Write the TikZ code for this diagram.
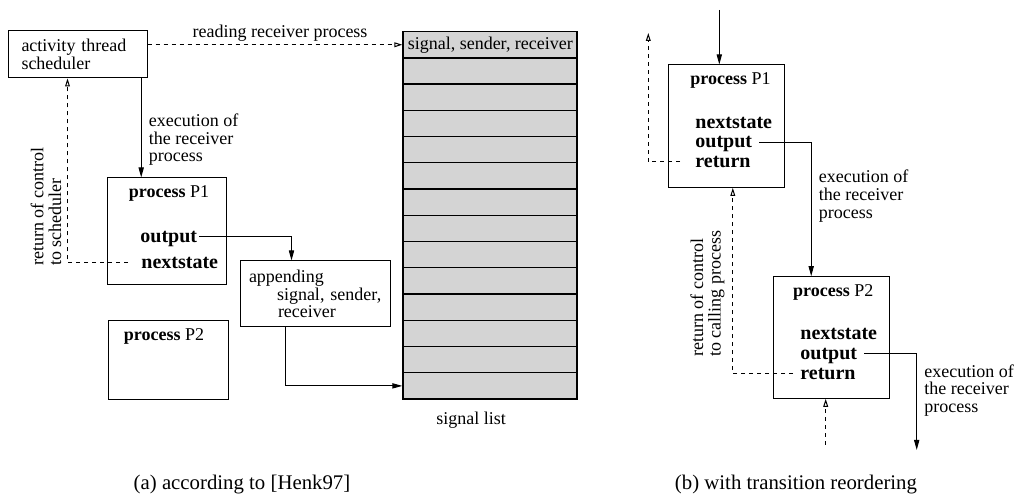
\documentclass[tikz,border=0pt]{standalone}
\usepackage{fontspec}
\setmainfont{Liberation Serif}
\usetikzlibrary{arrows.meta,calc}

\tikzset{
  box/.style={draw, line width=0.5pt, inner sep=0pt},
  word/.style={inner sep=1pt, anchor=west, font=\bfseries, text height=1.4ex, text depth=0.3ex},
  note/.style={align=left, inner sep=1pt},
  arr/.style={line width=0.5pt, -{Triangle[length=5pt,width=2.6pt]}},
  darr/.style={line width=0.5pt, dash pattern=on 2pt off 2pt, -{Triangle[open,length=4pt,width=2.4pt]}},
  cell/.style={draw, line width=0.65pt, fill=black!17, minimum width=87pt, minimum height=13.12pt, inner sep=0pt, anchor=north},
  caption/.style={font=\fontsize{10.4}{12}\selectfont}
}

\begin{document}
\begin{tikzpicture}[x=0.5pt, y=-0.5pt, font=\fontsize{9}{8.8}\selectfont]
\useasboundingbox (0,0) rectangle (1018,501);

% (a) according to [Henk97]
\node[box, minimum width=69.5pt, minimum height=23.5pt, align=left, text width=56pt] (sched) at (77.5,54.5) {activity thread\\scheduler};

\foreach \i in {0,...,13}
  \node[cell] (row\i) at (490,{31+\i*26.24}) {};
\node[anchor=west, inner sep=0pt] (head) at ([xshift=2.5pt]row0.west) {signal, sender, receiver};
\node (listlbl) at (471,420) {signal list};

\draw[darr] (sched.east |- row0) -- (row0.west) node[pos=0.52, above=-2pt] {reading receiver process};

\node[box, minimum width=59.5pt, minimum height=53.5pt] (p1) at (166.5,231.5) {};
\node (p1name) at (169,193) {\textbf{process} P1};
\node[word] (p1out) at (138,237) {output};
\node[word] (p1next) at (139,263) {nextstate};

\node[box, minimum width=60pt, minimum height=39.5pt] (p2) at (168,360.5) {};
\node (p2name) at (164,336) {\textbf{process} P2};

\node[box, minimum width=75pt, minimum height=33pt, align=left, text width=70pt] (app) at (315,294) {\hspace*{2pt}appending\\\hspace*{16pt}signal, sender,\\\hspace*{16.5pt}receiver};

\coordinate (execA) at ([xshift=-3.15pt]sched.south east);
\draw[arr] (execA) -- (execA |- p1.north) node[pos=0.62, right=2.6pt, note] {execution of\\the receiver\\process};
\draw[arr] (p1out.east) -| ([xshift=26pt]app.north west);
\draw[arr] ([xshift=22.85pt]app.south west) |- (row13.west);

\coordinate (retA) at ([xshift=30pt]sched.south west);
\draw[darr] ([xshift=-5.5pt]p1next.west) -| (retA);
\node[note, rotate=90, anchor=west] (retAlbl) at (46,268) {return of control\\to scheduler};

% (b) with transition reordering
\node[box, minimum width=57.9pt, minimum height=61.2pt] (q1) at (726.2,126.2) {};
\node (q1name) at (730.5,80) {\textbf{process} P1};
\node[word] (q1next) at (693,123) {nextstate};
\node[word] (q1out) at (693,142.7) {output};
\node[word] (q1ret) at (693,162) {return};

\coordinate (entry) at (719.3,10);
\draw[arr] (entry) -- (entry |- q1.north);
\coordinate (back1) at (648.3,33);
\draw[darr] ([xshift=-6.5pt]q1ret.west) -| (back1);

\node[box, minimum width=58pt, minimum height=60.8pt] (q2) at (831.3,337.5) {};
\node (q2name) at (833.3,292.3) {\textbf{process} P2};
\node[word] (q2next) at (798,334.3) {nextstate};
\node[word] (q2out) at (798,354) {output};
\node[word] (q2ret) at (798,374) {return};

\draw[arr] ([xshift=2.5pt]q1out.east) -| ([xshift=19.2pt]q2.north west) node[pos=0.7, right=2.6pt, note] {execution of\\the receiver\\process};
\draw[darr] ([xshift=-2.5pt]q2ret.west) -| ([xshift=32.5pt]q1.south west);
\node[note, rotate=90, anchor=west] (retBlbl) at (707.5,359) {return of control\\to calling process};

\coordinate (exit) at (916.7,450);
\draw[arr] ([xshift=2.5pt]q2out.east) -| (exit) node[pos=0.69, right=2.6pt, note] {execution of\\the receiver\\process};
\coordinate (back2) at (825.7,445);
\draw[darr] (back2) -- (back2 |- q2.south);

\node[caption] (capa) at (242,485) {(a) according to [Henk97]};
\node[caption] (capb) at (796,485) {(b) with transition reordering};
\end{tikzpicture}
\end{document}
